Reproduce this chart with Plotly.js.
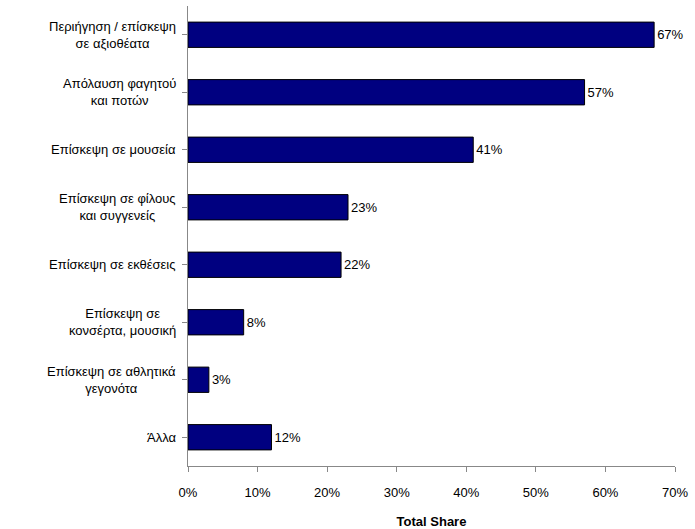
<!DOCTYPE html>
<html>
<head>
<meta charset="utf-8">
<script src="https://cdn.plot.ly/plotly-3.0.1.min.js"></script>
<style>body{margin:0}#chart{width:695px;height:529px}</style>
</head>
<body>
<div id="chart"></div>
<script>
// categories, top to bottom
const categories = [
    "Περιήγηση / επίσκεψη<br>σε αξιοθέατα",
    "Απόλαυση φαγητού<br>και ποτών",
    "Επίσκεψη σε μουσεία",
    "Επίσκεψη σε φίλους<br>και συγγενείς",
    "Επίσκεψη σε εκθέσεις",
    "Επίσκεψη σε<br>κονσέρτα, μουσική",
    "Επίσκεψη σε αθλητικά<br>γεγονότα",
    "Άλλα"
];
const shares = [67, 57, 41, 23, 22, 8, 3, 12];

const trace = {
    type: "bar",
    orientation: "h",
    y: categories,
    x: shares,
    text: shares.map(v => v + "%"),
    textposition: "outside",
    cliponaxis: false,
    textfont: {size: 13, color: "#000"},
    marker: {color: "#000080", line: {color: "#000", width: 1}},
    hoverinfo: "none"
};

// centred category labels (plotly tick labels are right aligned)
const labels = categories.map(c => ({
    xref: "paper", yref: "y", x: -0.02, y: c,
    text: c, showarrow: false, xanchor: "right", align: "center",
    font: {size: 13, color: "#000"}
}));

const layout = {
    width: 695, height: 529,
    margin: {l: 188, r: 20, t: 6, b: 63},
    paper_bgcolor: "#fff", plot_bgcolor: "#fff",
    font: {family: "Liberation Sans, Arial, sans-serif", size: 13, color: "#000"},
    bargap: 0.56,
    showlegend: false,
    annotations: labels,
    xaxis: {
        range: [0, 70], dtick: 10, ticksuffix: "%",
        showgrid: false, zeroline: false,
        showline: true, linecolor: "#888", ticks: "outside", tickcolor: "#888", ticklen: 5,
        ticklabelstandoff: 9,
        title: {text: "<b>Total Share</b>", font: {size: 13}, standoff: 18}
    },
    yaxis: {
        autorange: "reversed", showticklabels: false,
        showgrid: false, zeroline: false,
        showline: true, linecolor: "#888", ticks: "outside", tickcolor: "#888", ticklen: 5
    }
};

Plotly.newPlot("chart", [trace], layout, {displayModeBar: false, staticPlot: true});
</script>
</body>
</html>
